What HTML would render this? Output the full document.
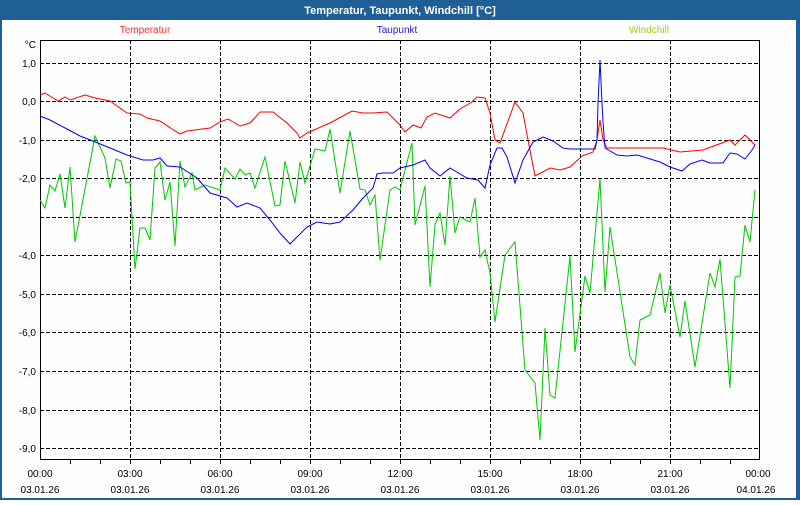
<!DOCTYPE html>
<html><head><meta charset="utf-8"><style>
body{margin:0;width:800px;height:500px;overflow:hidden;background:#fff;font-family:"Liberation Sans",sans-serif}
</style></head><body>
<svg width="800" height="500" xmlns="http://www.w3.org/2000/svg" font-family="Liberation Sans, sans-serif" font-size="10">
<rect x="0" y="0" width="800" height="500" fill="#1f5f95"/>
<rect x="2" y="20" width="794" height="478" fill="#fdfefd"/>
<text x="400" y="14" fill="#fff" font-size="11" font-weight="bold" text-anchor="middle">Temperatur, Taupunkt, Windchill [°C]</text>
<text x="145" y="33" fill="#ff3030" text-anchor="middle">Temperatur</text>
<text x="397" y="33" fill="#2020e0" text-anchor="middle">Taupunkt</text>
<text x="649" y="33" fill="#a0d010" text-anchor="middle">Windchill</text>
<g stroke="#000" stroke-dasharray="4,2" stroke-width="1">
<line x1="40" x2="760" y1="63.5" y2="63.5"/><line x1="40" x2="760" y1="101.5" y2="101.5"/><line x1="40" x2="760" y1="140.5" y2="140.5"/><line x1="40" x2="760" y1="178.5" y2="178.5"/><line x1="40" x2="760" y1="217.5" y2="217.5"/><line x1="40" x2="760" y1="255.5" y2="255.5"/><line x1="40" x2="760" y1="294.5" y2="294.5"/><line x1="40" x2="760" y1="332.5" y2="332.5"/><line x1="40" x2="760" y1="371.5" y2="371.5"/><line x1="40" x2="760" y1="410.5" y2="410.5"/><line x1="40" x2="760" y1="448.5" y2="448.5"/>
<line x1="130.5" x2="130.5" y1="40" y2="460"/><line x1="220.5" x2="220.5" y1="40" y2="460"/><line x1="310.5" x2="310.5" y1="40" y2="460"/><line x1="400.5" x2="400.5" y1="40" y2="460"/><line x1="490.5" x2="490.5" y1="40" y2="460"/><line x1="580.5" x2="580.5" y1="40" y2="460"/><line x1="670.5" x2="670.5" y1="40" y2="460"/>
</g>
<rect x="40.5" y="40.5" width="719" height="419" fill="none" stroke="#000" stroke-width="1"/>
<g stroke="#000"><line x1="70.5" x2="70.5" y1="460" y2="464"/><line x1="100.5" x2="100.5" y1="460" y2="464"/><line x1="130.5" x2="130.5" y1="460" y2="464"/><line x1="160.5" x2="160.5" y1="460" y2="464"/><line x1="190.5" x2="190.5" y1="460" y2="464"/><line x1="250.5" x2="250.5" y1="460" y2="464"/><line x1="280.5" x2="280.5" y1="460" y2="464"/><line x1="340.5" x2="340.5" y1="460" y2="464"/><line x1="370.5" x2="370.5" y1="460" y2="464"/><line x1="430.5" x2="430.5" y1="460" y2="464"/><line x1="460.5" x2="460.5" y1="460" y2="464"/><line x1="520.5" x2="520.5" y1="460" y2="464"/><line x1="550.5" x2="550.5" y1="460" y2="464"/><line x1="610.5" x2="610.5" y1="460" y2="464"/><line x1="640.5" x2="640.5" y1="460" y2="464"/><line x1="700.5" x2="700.5" y1="460" y2="464"/><line x1="730.5" x2="730.5" y1="460" y2="464"/><line x1="220.5" x2="220.5" y1="460" y2="464"/><line x1="310.5" x2="310.5" y1="460" y2="464"/><line x1="400.5" x2="400.5" y1="460" y2="464"/><line x1="490.5" x2="490.5" y1="460" y2="464"/><line x1="580.5" x2="580.5" y1="460" y2="464"/><line x1="670.5" x2="670.5" y1="460" y2="464"/></g>
<g text-anchor="end" fill="#000">
<text x="36" y="48">°C</text>
<text x="36" y="67">1,0</text><text x="36" y="105">0,0</text><text x="36" y="144">-1,0</text><text x="36" y="182">-2,0</text><text x="36" y="259">-4,0</text><text x="36" y="298">-5,0</text><text x="36" y="336">-6,0</text><text x="36" y="375">-7,0</text><text x="36" y="414">-8,0</text><text x="36" y="452">-9,0</text>
</g>
<g text-anchor="middle" fill="#000">
<text x="40" y="477">00:00</text><text x="130" y="477">03:00</text><text x="220" y="477">06:00</text><text x="310" y="477">09:00</text><text x="400" y="477">12:00</text><text x="490" y="477">15:00</text><text x="580" y="477">18:00</text><text x="670" y="477">21:00</text><text x="758" y="477">00:00</text>
<text x="40" y="493">03.01.26</text><text x="130" y="493">03.01.26</text><text x="220" y="493">03.01.26</text><text x="310" y="493">03.01.26</text><text x="400" y="493">03.01.26</text><text x="490" y="493">03.01.26</text><text x="580" y="493">03.01.26</text><text x="670" y="493">03.01.26</text><text x="756" y="493">04.01.26</text>
</g>
<polyline fill="none" stroke="#00c800" stroke-width="1" points="40,200 45,208 50,185 55,191 60,174 65,208 70,167 75,242 95,136 105,158 110,188 116,159 121,161 126,183 130,182 135,269 140,228 145,228 150,240 155,168 160,162 165,200 170,182 175,246 180,161 185,187 192,173 195,190 205,185 220,190 225,168 235,179 240,169 245,175 250,173 255,188 265,157 275,206 280,205 285,161 295,203 300,162 305,183 315,149 325,151 330,129 340,193 350,131 360,189 365,190 370,205 375,195 380,260 390,190 395,187 400,190 405,170 412,143 415,225 425,186 430,287 435,225 440,213 445,245 450,176 455,233 460,217 470,222 475,198 480,257 485,250 490,273 495,322 505,255 515,242 525,370 535,383 540,440 545,328 550,395 555,398 570,256 575,352 585,276 590,293 600,179 605,292 610,227 630,357 635,365 640,320 650,315 660,273 665,313 670,285 680,337 685,301 695,367 710,273 715,287 720,259 730,388 735,277 740,276 745,225 750,242 755,190"/>
<polyline fill="none" stroke="#ff0000" stroke-width="1" points="40,95 45,93 58,101 65,97 70,100 85,95 95,98 110,101 127,113 140,114 147,118 160,121 172,129 180,134 187,131 210,128 220,122 228,119 240,126 250,123 260,112 273,112 287,123 297,133 300,138 307,133 330,123 352,111 363,113 373,113 387,112 400,125 405,132 413,125 421,128 427,117 435,113 450,118 460,109 472,102 477,97 485,98 490,113 495,140 500,143 515,102 523,113 528,140 535,176 550,168 560,170 570,167 582,156 593,152 597,140 600,120 603,140 607,148 617,148 663,148 680,152 703,150 730,140 735,145 745,135 755,145"/>
<polyline fill="none" stroke="#0000ff" stroke-width="1" points="40,116 50,120 67,129 80,136 93,141 110,148 127,155 143,160 153,160 160,158 167,166 180,167 197,178 210,193 227,198 237,207 247,203 260,208 270,220 280,233 290,244 307,227 317,222 330,224 340,222 353,210 363,198 373,188 377,174 383,173 393,173 400,168 413,165 425,160 430,168 440,176 450,168 467,178 478,180 485,188 490,165 497,148 502,148 507,157 515,183 523,160 533,142 543,137 553,141 563,148 570,149 595,149 597,140 598,103 600,60 602,103 603,122 605,148 617,155 627,156 637,155 647,158 660,162 670,167 682,171 690,164 702,160 710,163 723,163 730,153 737,154 745,159 752,150 755,145"/>
</svg>
</body></html>
